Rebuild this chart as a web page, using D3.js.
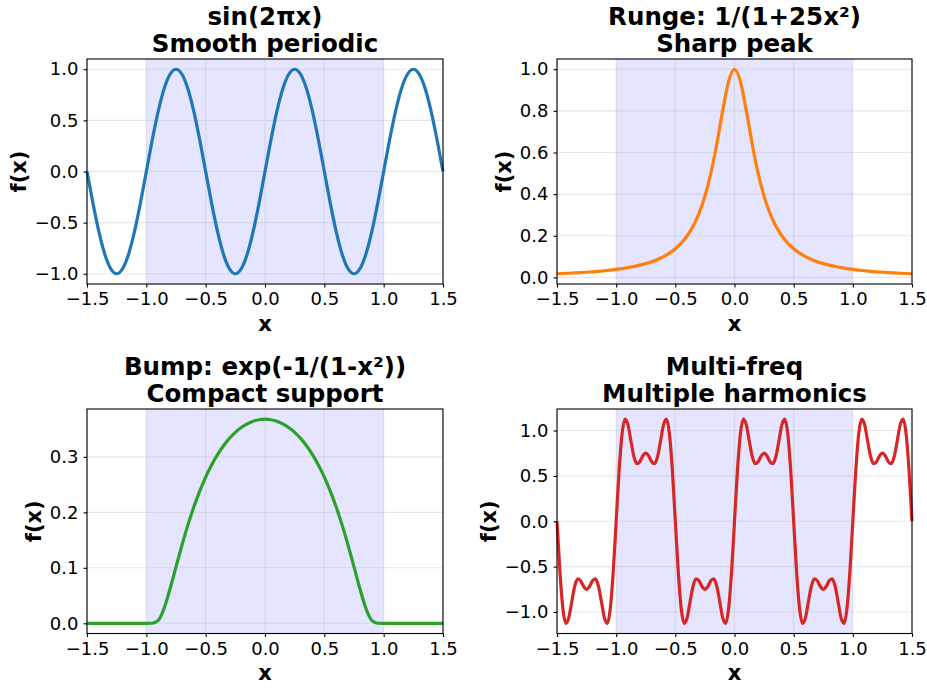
<!DOCTYPE html>
<html>
<head>
<meta charset="utf-8">
<script src="https://cdn.jsdelivr.net/npm/d3@7"></script>
<style>
    body { margin: 0; background: #fff; }
    svg { display: block; font-family: "DejaVu Sans", sans-serif; }
</style>
</head>
<body>
<script>
// x grids the curves were read on
var xCoarse = [-1.5,-1.45,-1.4,-1.35,-1.3,-1.25,-1.2,-1.15,-1.1,-1.05,
    -1,-0.95,-0.9,-0.85,-0.8,-0.75,-0.7,-0.65,-0.6,-0.55,
    -0.5,-0.45,-0.4,-0.35,-0.3,-0.25,-0.2,-0.15,-0.1,-0.05,
    0,0.05,0.1,0.15,0.2,0.25,0.3,0.35,0.4,0.45,
    0.5,0.55,0.6,0.65,0.7,0.75,0.8,0.85,0.9,0.95,
    1,1.05,1.1,1.15,1.2,1.25,1.3,1.35,1.4,1.45,1.5];

var xFine = [-1.5,-1.475,-1.45,-1.425,-1.4,-1.375,-1.35,-1.325,-1.3,-1.275,-1.25,-1.225,-1.2,-1.175,-1.15,-1.125,-1.1,-1.075,-1.05,-1.025,
    -1,-0.975,-0.95,-0.925,-0.9,-0.875,-0.85,-0.825,-0.8,-0.775,-0.75,-0.725,-0.7,-0.675,-0.65,-0.625,-0.6,-0.575,-0.55,-0.525,
    -0.5,-0.475,-0.45,-0.425,-0.4,-0.375,-0.35,-0.325,-0.3,-0.275,-0.25,-0.225,-0.2,-0.175,-0.15,-0.125,-0.1,-0.075,-0.05,-0.025,
    0,0.025,0.05,0.075,0.1,0.125,0.15,0.175,0.2,0.225,0.25,0.275,0.3,0.325,0.35,0.375,0.4,0.425,0.45,0.475,
    0.5,0.525,0.55,0.575,0.6,0.625,0.65,0.675,0.7,0.725,0.75,0.775,0.8,0.825,0.85,0.875,0.9,0.925,0.95,0.975,
    1,1.025,1.05,1.075,1.1,1.125,1.15,1.175,1.2,1.225,1.25,1.275,1.3,1.325,1.35,1.375,1.4,1.425,1.45,1.475,
    1.5];

var sinValues = [0,-0.309,-0.588,-0.809,-0.951,-1,-0.951,-0.809,-0.588,-0.309,
    0,0.309,0.588,0.809,0.951,1,0.951,0.809,0.588,0.309,
    0,-0.309,-0.588,-0.809,-0.951,-1,-0.951,-0.809,-0.588,-0.309,
    0,0.309,0.588,0.809,0.951,1,0.951,0.809,0.588,0.309,
    0,-0.309,-0.588,-0.809,-0.951,-1,-0.951,-0.809,-0.588,-0.309,
    0,0.309,0.588,0.809,0.951,1,0.951,0.809,0.588,0.309,
    0];

var rungeValues = [0.0175,0.0187,0.0200,0.0215,0.0231,0.0250,0.0270,0.0294,0.0320,0.0350,
    0.0385,0.0424,0.0471,0.0525,0.0588,0.0664,0.0755,0.0865,0.1000,0.1168,
    0.1379,0.1649,0.2000,0.2462,0.3077,0.3902,0.5000,0.6400,0.8000,0.9412,
    1.0,
    0.9412,0.8000,0.6400,0.5000,0.3902,0.3077,0.2462,0.2000,0.1649,0.1379,
    0.1168,0.1000,0.0865,0.0755,0.0664,0.0588,0.0525,0.0471,0.0424,0.0385,
    0.0350,0.0320,0.0294,0.0270,0.0250,0.0231,0.0215,0.0200,0.0187,0.0175];

var bumpValues = [0,0,0,0,0,0,0,0,0,0,
    0,0.00004,0.0052,0.0272,0.0622,0.1017,0.1407,0.1770,0.2096,0.2384,
    0.2636,0.2854,0.3041,0.3200,0.3333,0.3442,0.3529,0.3595,0.3642,0.3670,
    0.3679,
    0.3670,0.3642,0.3595,0.3529,0.3442,0.3333,0.3200,0.3041,0.2854,0.2636,
    0.2384,0.2096,0.1770,0.1407,0.1017,0.0622,0.0272,0.0052,0.00004,0,
    0,0,0,0,0,0,0,0,0,0];

var multiValues = [0,-0.560,-0.964,-1.125,-1.063,-0.884,-0.714,-0.636,-0.657,-0.719,-0.75,-0.719,-0.657,-0.636,-0.714,-0.884,-1.063,-1.125,-0.964,-0.560,
    0,0.560,0.964,1.125,1.063,0.884,0.714,0.636,0.657,0.719,0.75,0.719,0.657,0.636,0.714,0.884,1.063,1.125,0.964,0.560,
    0,-0.560,-0.964,-1.125,-1.063,-0.884,-0.714,-0.636,-0.657,-0.719,-0.75,-0.719,-0.657,-0.636,-0.714,-0.884,-1.063,-1.125,-0.964,-0.560,
    0,0.560,0.964,1.125,1.063,0.884,0.714,0.636,0.657,0.719,0.75,0.719,0.657,0.636,0.714,0.884,1.063,1.125,0.964,0.560,
    0,-0.560,-0.964,-1.125,-1.063,-0.884,-0.714,-0.636,-0.657,-0.719,-0.75,-0.719,-0.657,-0.636,-0.714,-0.884,-1.063,-1.125,-0.964,-0.560,
    0,0.560,0.964,1.125,1.063,0.884,0.714,0.636,0.657,0.719,0.75,0.719,0.657,0.636,0.714,0.884,1.063,1.125,0.964,0.560,
    0];

var xTickValues = [-1.5, -1, -0.5, 0, 0.5, 1, 1.5];
var sinTicks = [-1, -0.5, 0, 0.5, 1];
var rungeTicks = [0, 0.2, 0.4, 0.6, 0.8, 1];
var bumpTicks = [0, 0.1, 0.2, 0.3];
var multiTicks = [-1, -0.5, 0, 0.5, 1];
var spanRange = [-1, 1];

var panelTitles = [
    ["sin(2πx)", "Smooth periodic"],
    ["Runge: 1/(1+25x²)", "Sharp peak"],
    ["Bump: exp(-1/(1-x²))", "Compact support"],
    ["Multi-freq", "Multiple harmonics"]
];
var seriesColors = ["#1f77b4", "#ff7f0e", "#2ca02c", "#d62728"];

function functionPanel() {
    var _panel = {};

    var _left = 0, _top = 0, _width = 356, _height = 225,
            _xs = [], _ys = [],
            _yTicks = [],
            _title = [],
            _color = "steelblue",
            _x, _y, _g;

    _panel.render = function (svg) {
        _g = svg.append("g")
                .attr("transform", "translate(" + _left + "," + _top + ")");

        _x = d3.scaleLinear().domain([-1.5, 1.5]).range([0, _width]);

        // matplotlib style 5% margin around the data
        var ext = d3.extent(_ys);
        var pad = (ext[1] - ext[0]) * 0.05;
        _y = d3.scaleLinear().domain([ext[0] - pad, ext[1] + pad]).range([_height, 0]);

        renderSpan();
        renderGrid();
        renderLine();
        renderAxes();
        renderLabels();
    };

    function renderSpan() {
        _g.append("rect")
                .attr("class", "span")
                .attr("x", _x(spanRange[0]))
                .attr("y", 0)
                .attr("width", _x(spanRange[1]) - _x(spanRange[0]))
                .attr("height", _height)
                .style("fill", "blue")
                .style("fill-opacity", 0.1);
    }

    function renderGrid() {
        var gridG = _g.append("g").attr("class", "grid");

        gridG.selectAll("line.v").data(xTickValues)
                .enter().append("line")
                .attr("class", "v")
                .attr("x1", function (d) { return _x(d); })
                .attr("x2", function (d) { return _x(d); })
                .attr("y1", 0)
                .attr("y2", _height);

        gridG.selectAll("line.h").data(_yTicks)
                .enter().append("line")
                .attr("class", "h")
                .attr("x1", 0)
                .attr("x2", _width)
                .attr("y1", function (d) { return _y(d); })
                .attr("y2", function (d) { return _y(d); });

        gridG.selectAll("line")
                .style("stroke", "#b0b0b0")
                .style("stroke-opacity", 0.3)
                .style("stroke-width", 1.1);
    }

    function renderLine() {
        var line = d3.line()
                .x(function (d, i) { return _x(_xs[i]); })
                .y(function (d) { return _y(d); })
                .curve(d3.curveMonotoneX);

        _g.append("path")
                .datum(_ys)
                .attr("d", line)
                .style("fill", "none")
                .style("stroke", _color)
                .style("stroke-width", 3.2)
                .style("stroke-linejoin", "round");
    }

    function renderAxes() {
        var fmt = d3.format(".1f");

        var xAxisG = _g.append("g")
                .attr("transform", "translate(0," + _height + ")")
                .call(d3.axisBottom(_x).tickValues(xTickValues)
                        .tickSize(3.5).tickPadding(5.2).tickFormat(fmt));

        var yAxisG = _g.append("g")
                .call(d3.axisLeft(_y).tickValues(_yTicks)
                        .tickSize(3.5).tickPadding(5).tickFormat(fmt));

        [xAxisG, yAxisG].forEach(function (a) {
            a.select(".domain").remove();
            a.selectAll(".tick line").style("stroke", "#000").style("stroke-width", 1.1);
            a.selectAll(".tick text")
                    .style("font-family", "DejaVu Sans, sans-serif")
                    .style("font-size", "18px")
                    .style("fill", "#000");
        });

        _g.append("rect")
                .attr("class", "frame")
                .attr("width", _width)
                .attr("height", _height)
                .style("fill", "none")
                .style("stroke", "#000")
                .style("stroke-width", 1.1);

        var maxW = 0;
        yAxisG.selectAll(".tick text").each(function () {
            maxW = Math.max(maxW, this.getBBox().width);
        });
        _panel.tickWidth = maxW;
    }

    function renderLabels() {
        _g.append("text")
                .attr("x", _width / 2)
                .attr("y", _height + 46.5)
                .attr("text-anchor", "middle")
                .style("font-size", "21px")
                .style("font-weight", "bold")
                .text("x");

        var lx = -(3.5 + 5 + _panel.tickWidth + 9);
        _g.append("text")
                .attr("transform", "translate(" + lx + "," + (_height / 2) + ") rotate(-90)")
                .attr("text-anchor", "middle")
                .style("font-size", "21px")
                .style("font-weight", "bold")
                .text("f(x)");

        _g.selectAll("text.title").data(_title)
                .enter().append("text")
                .attr("class", "title")
                .attr("x", _width / 2)
                .attr("y", function (d, i) { return -6.7 - (1 - i) * 27.5; })
                .attr("text-anchor", "middle")
                .style("font-size", "24.5px")
                .style("font-weight", "bold")
                .text(function (d) { return d; });
    }

    _panel.position = function (l, t) {
        _left = l; _top = t;
        return _panel;
    };

    _panel.size = function (w, h) {
        _width = w; _height = h;
        return _panel;
    };

    _panel.data = function (xs, ys) {
        _xs = xs; _ys = ys;
        return _panel;
    };

    _panel.yTicks = function (t) {
        _yTicks = t;
        return _panel;
    };

    _panel.title = function (t) {
        _title = t;
        return _panel;
    };

    _panel.color = function (c) {
        _color = c;
        return _panel;
    };

    return _panel;
}

var svg = d3.select("body").append("svg")
        .attr("width", 927)
        .attr("height", 688);

functionPanel().position(87, 59).size(356, 225)
        .data(xCoarse, sinValues).yTicks(sinTicks)
        .title(panelTitles[0]).color(seriesColors[0]).render(svg);

functionPanel().position(557, 59).size(355, 225)
        .data(xCoarse, rungeValues).yTicks(rungeTicks)
        .title(panelTitles[1]).color(seriesColors[1]).render(svg);

functionPanel().position(87, 409).size(356, 224.5)
        .data(xCoarse, bumpValues).yTicks(bumpTicks)
        .title(panelTitles[2]).color(seriesColors[2]).render(svg);

functionPanel().position(557, 409).size(355, 224.5)
        .data(xFine, multiValues).yTicks(multiTicks)
        .title(panelTitles[3]).color(seriesColors[3]).render(svg);
</script>
</body>
</html>
